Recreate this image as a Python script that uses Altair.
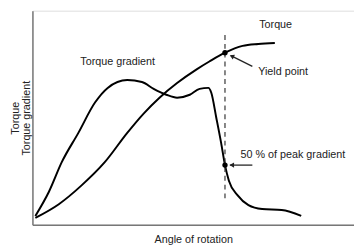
import altair as alt
import pandas as pd

# Torque curve (angle, value) in arbitrary units
torque_x = [3, 27, 50, 74, 97, 114, 130, 148, 168, 181, 197, 215, 231, 248]
torque_y = [7, 21, 40, 64, 94, 114, 130, 145, 159, 167, 176, 183, 185, 186]

# Torque gradient curve
grad_x = [3, 17, 30, 47, 64, 77, 97, 112, 124, 137, 148, 161, 171, 180, 183, 188,
          193, 197, 201, 210, 221, 235, 255, 275]
grad_y = [9, 34, 64, 94, 125, 140, 148, 146, 139, 133, 130, 133, 139, 140, 135, 110,
          84, 61, 45, 30, 20, 16, 15, 9]

yield_angle = 197
yield_torque = 176
half_grad = 61
dash_top = 194
dash_bottom = 27

labels = ["Torque", "Yield point", "Torque gradient", "50 % of peak gradient"]
label_x = [232, 231, 49, 213]
label_y = [204, 156, 166, 71]

FONT = "Liberation Sans"

curves = pd.DataFrame(
    [{"series": "Torque", "angle": a, "value": v, "order": i} for i, (a, v) in enumerate(zip(torque_x, torque_y))]
    + [{"series": "Torque gradient", "angle": a, "value": v, "order": i} for i, (a, v) in enumerate(zip(grad_x, grad_y))]
)

xs = alt.Scale(domain=[0, 329], nice=False, zero=False)
ys = alt.Scale(domain=[0, 219], nice=False, zero=False)

base_x = alt.X("angle:Q", scale=xs, axis=alt.Axis(
    title="Angle of rotation", ticks=False, labels=False, grid=False,
    domainColor="#777777", domainWidth=1.5, titleFont=FONT, titleFontSize=11,
    titleFontWeight="normal", titleColor="#222222", titlePadding=9))
base_y = alt.Y("value:Q", scale=ys, axis=alt.Axis(
    title=["Torque", "Torque gradient"], ticks=False, labels=False, grid=False,
    domainColor="#777777", domainWidth=1.5, titleFont=FONT, titleFontSize=11,
    titleFontWeight="normal", titleColor="#222222", titlePadding=1, titleLineHeight=11.5))

lines = alt.Chart(curves).mark_line(color="black", strokeWidth=2, interpolate="monotone").encode(
    x=base_x, y=base_y, detail="series:N", order="order:Q")

dash = alt.Chart(pd.DataFrame({"angle": [yield_angle], "value": [dash_bottom], "value2": [dash_top]})).mark_rule(
    color="#333333", strokeWidth=1.2, strokeDash=[5, 4]).encode(
    x=alt.X("angle:Q", scale=xs), y=alt.Y("value:Q", scale=ys), y2="value2:Q")

pts = alt.Chart(pd.DataFrame({"angle": [yield_angle, yield_angle], "value": [yield_torque, half_grad]})).mark_point(
    filled=True, color="black", size=30, opacity=1).encode(
    x=alt.X("angle:Q", scale=xs), y=alt.Y("value:Q", scale=ys))

arrows = pd.DataFrame({
    "id": ["a", "a", "b", "b"],
    "angle": [225, 203, 225, 202],
    "value": [162, 173, 61, 61],
})
shafts = alt.Chart(arrows).mark_line(color="#222222", strokeWidth=1.3).encode(
    x=alt.X("angle:Q", scale=xs), y=alt.Y("value:Q", scale=ys), detail="id:N")

heads = alt.Chart(pd.DataFrame({"angle": [204, 204], "value": [172.5, 61], "rot": [205, 180]})).mark_point(
    shape="triangle-right", filled=True, color="#222222", size=28, opacity=1).encode(
    x=alt.X("angle:Q", scale=xs), y=alt.Y("value:Q", scale=ys), angle=alt.Angle("rot:Q", scale=None))

texts = alt.Chart(pd.DataFrame({"label": labels, "angle": label_x, "value": label_y})).mark_text(
    align="left", baseline="middle", font=FONT, fontSize=11, color="#222222").encode(
    x=alt.X("angle:Q", scale=xs), y=alt.Y("value:Q", scale=ys), text="label:N")

chart = alt.layer(lines, dash, pts, shafts, heads, texts).properties(
    width=329, height=219, autosize=alt.AutoSizeParams(type="none"),
    padding={"left": 25, "top": 0, "right": 0, "bottom": 18},
).configure_view(stroke=None).configure(background="white")

chart.save("out.html", embed_options={"renderer": "svg", "actions": False})
